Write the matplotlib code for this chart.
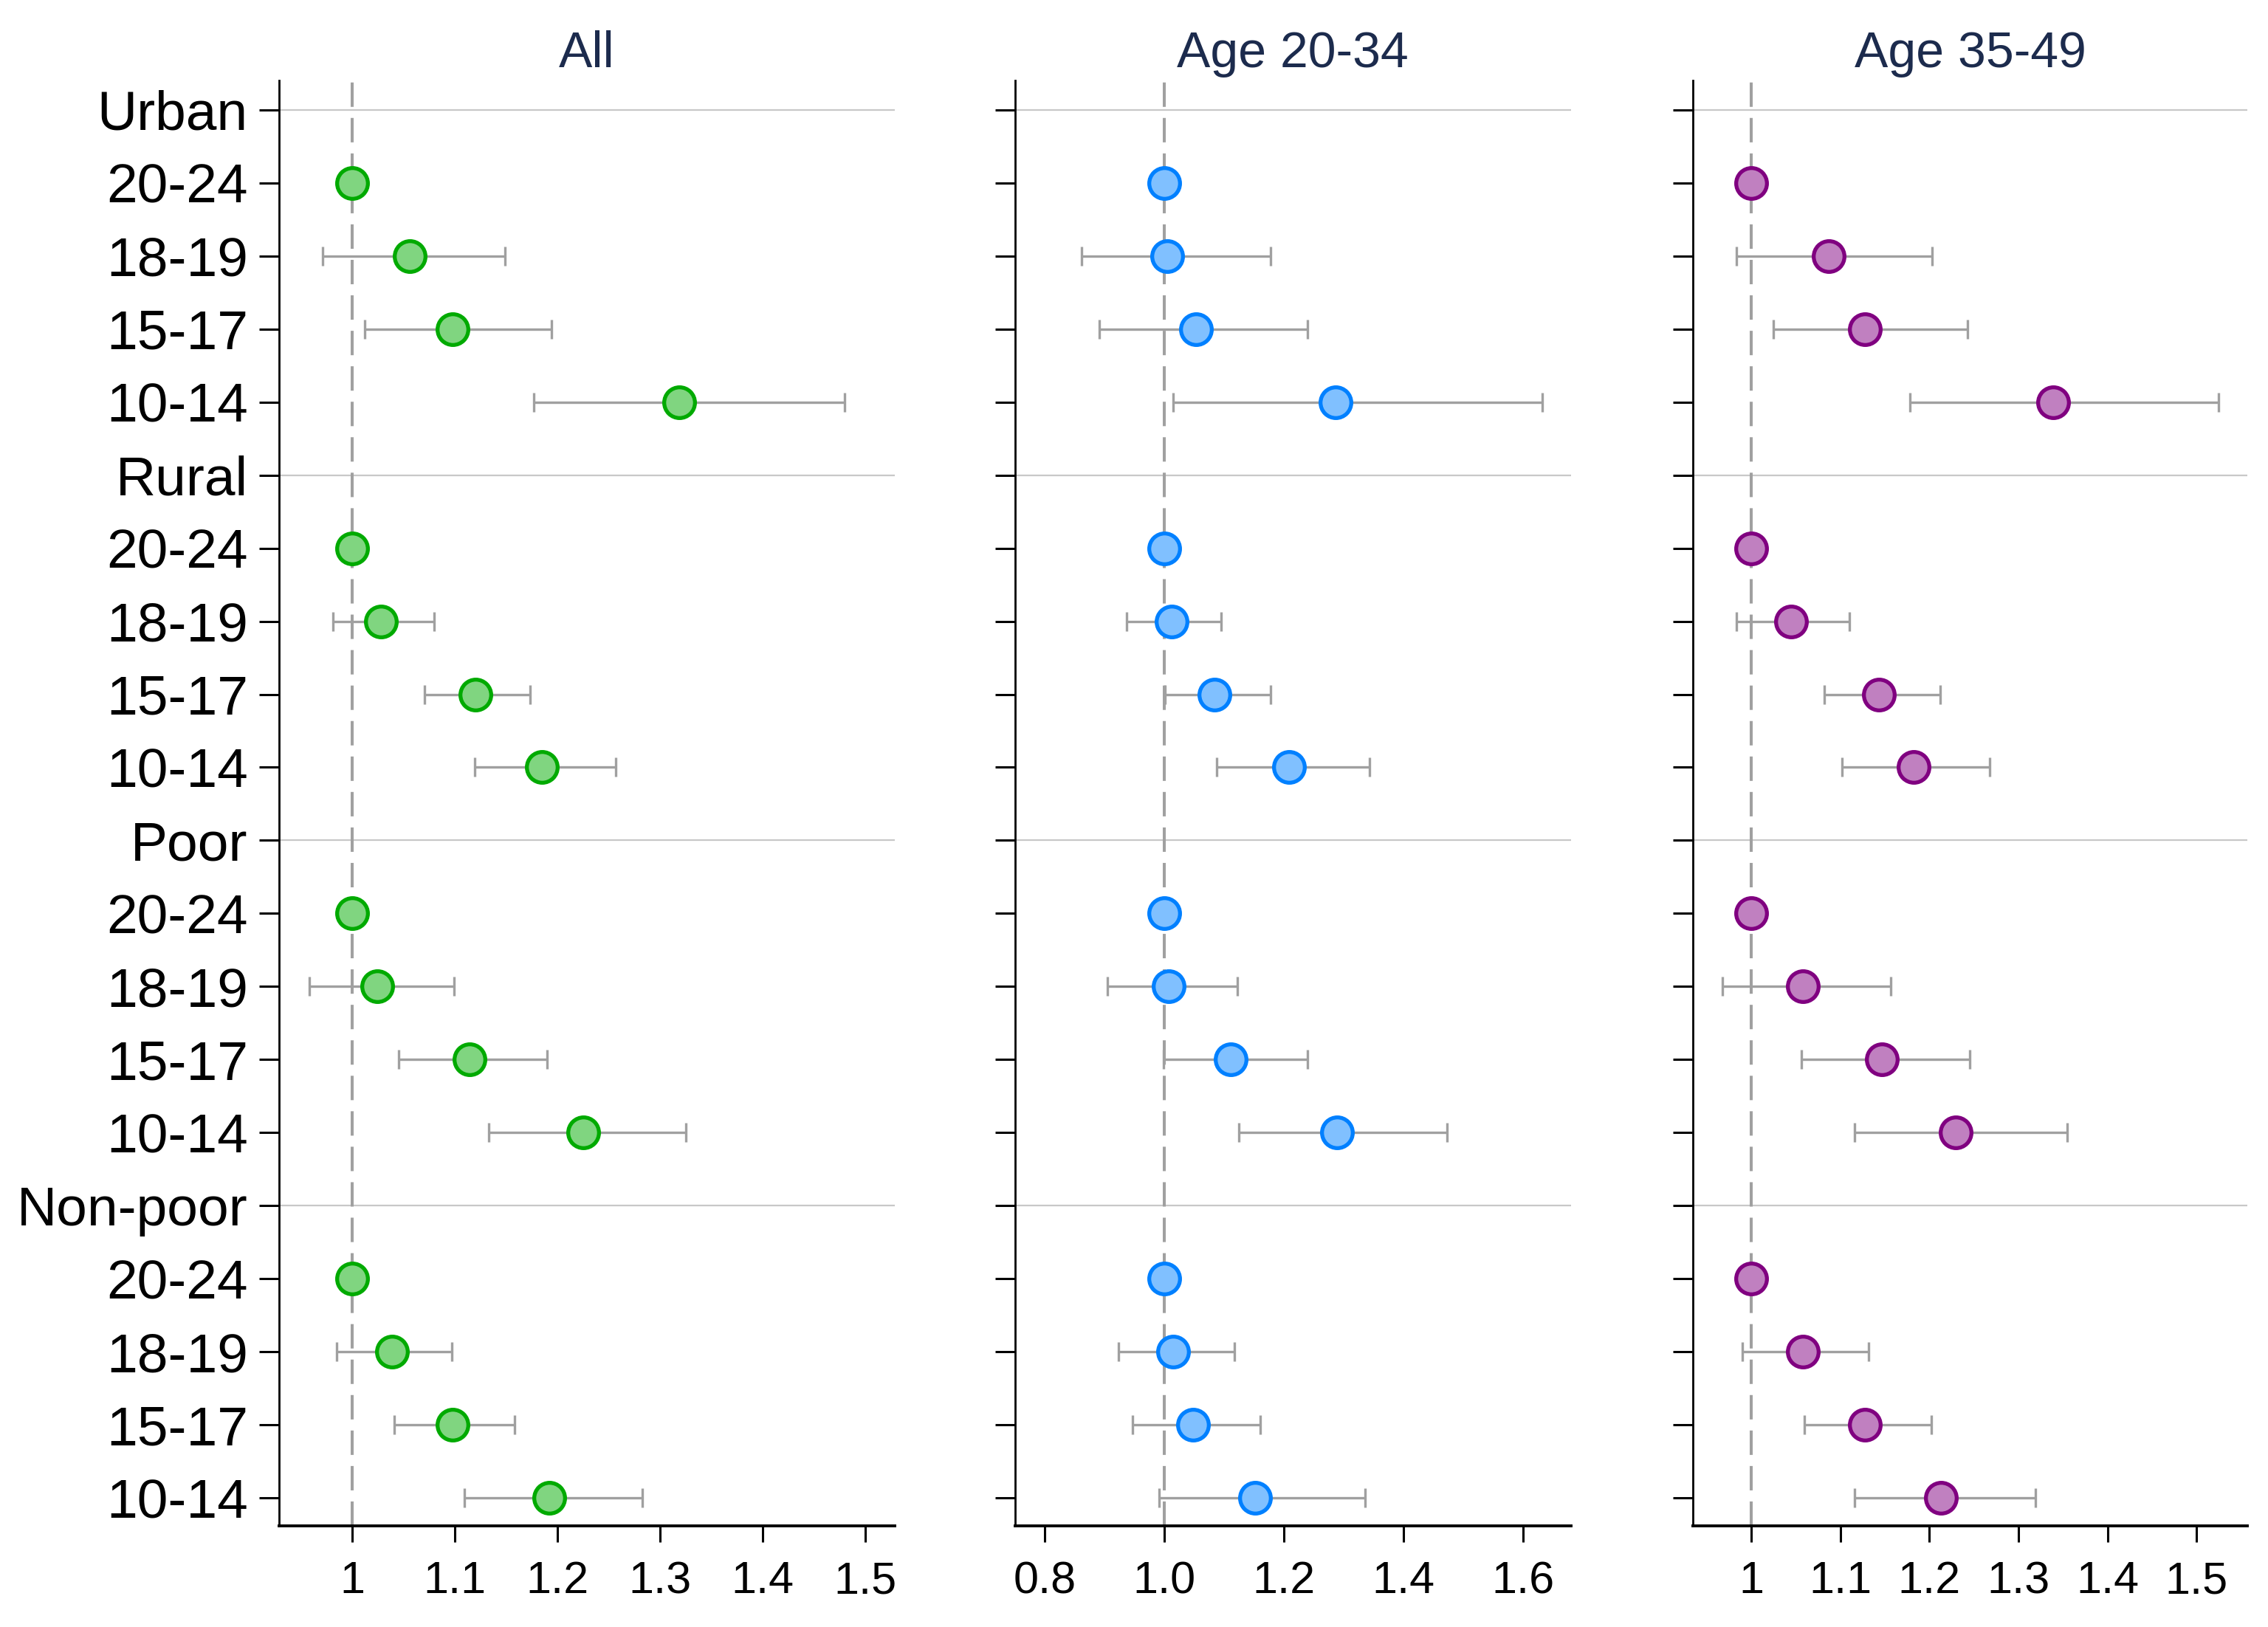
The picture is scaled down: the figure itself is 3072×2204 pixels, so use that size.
import numpy as np
import matplotlib
matplotlib.use("Agg")
import matplotlib.pyplot as plt

plt.rcParams['font.family'] = ['Liberation Sans', 'DejaVu Sans']
plt.rcParams['lines.scale_dashes'] = False

nan = np.nan
groups = ["Urban", "Rural", "Poor", "Non-poor"]
ages = ["20-24", "18-19", "15-17", "10-14"]
panel_titles = ["All", "Age 20-34", "Age 35-49"]

# All
est_all = [[1, 1.056, 1.098, 1.319], [1, 1.028, 1.120, 1.185],
           [1, 1.024, 1.114, 1.225], [1, 1.039, 1.098, 1.192]]
lo_all = [[nan, 0.971, 1.012, 1.177], [nan, 0.981, 1.070, 1.119],
          [nan, 0.958, 1.045, 1.133], [nan, 0.985, 1.041, 1.109]]
hi_all = [[nan, 1.149, 1.194, 1.480], [nan, 1.080, 1.173, 1.257],
          [nan, 1.099, 1.190, 1.325], [nan, 1.097, 1.158, 1.283]]

# Age 20-34
est_2034 = [[1, 1.004, 1.053, 1.286], [1, 1.012, 1.084, 1.208],
            [1, 1.007, 1.111, 1.289], [1, 1.014, 1.048, 1.152]]
lo_2034 = [[nan, 0.861, 0.891, 1.015], [nan, 0.936, 1.001, 1.088],
           [nan, 0.904, 0.998, 1.125], [nan, 0.923, 0.946, 0.991]]
hi_2034 = [[nan, 1.177, 1.239, 1.632], [nan, 1.095, 1.177, 1.343],
           [nan, 1.122, 1.239, 1.473], [nan, 1.117, 1.160, 1.336]]

# Age 35-49
est_3549 = [[1, 1.087, 1.128, 1.339], [1, 1.045, 1.143, 1.182],
            [1, 1.058, 1.147, 1.230], [1, 1.058, 1.128, 1.213]]
lo_3549 = [[nan, 0.983, 1.025, 1.178], [nan, 0.983, 1.082, 1.102],
           [nan, 0.968, 1.056, 1.116], [nan, 0.990, 1.060, 1.116]]
hi_3549 = [[nan, 1.203, 1.243, 1.525], [nan, 1.110, 1.212, 1.268],
           [nan, 1.157, 1.245, 1.355], [nan, 1.132, 1.202, 1.319]]

xticks_1 = [1, 1.1, 1.2, 1.3, 1.4, 1.5]
xticklabels_1 = ["1", "1.1", "1.2", "1.3", "1.4", "1.5"]
xticks_2 = [0.8, 1.0, 1.2, 1.4, 1.6]
xticklabels_2 = ["0.8", "1.0", "1.2", "1.4", "1.6"]

panels = [
    dict(est=est_all, lo=lo_all, hi=hi_all, edge="#00aa00", face="#80d580",
         xlim=(0.9285, 1.529), ticks=xticks_1, labels=xticklabels_1),
    dict(est=est_2034, lo=lo_2034, hi=hi_2034, edge="#0080ff", face="#80c0ff",
         xlim=(0.75, 1.68), ticks=xticks_2, labels=xticklabels_2),
    dict(est=est_3549, lo=lo_3549, hi=hi_3549, edge="#800080", face="#c080c0",
         xlim=(0.9345, 1.557), ticks=xticks_1, labels=xticklabels_1),
]

# row labels
row_labels = []
for g in groups:
    row_labels.append(g)
    row_labels.extend(ages)
n_rows = len(row_labels)

W, H = 3072, 2204
fig = plt.figure(figsize=(W / 200, H / 200), dpi=200)
lefts = [378, 1375, 2293]
rights = [1212, 2127.5, 3044]
top_px, bot_px = 109, 2067

gray = "#a0a0a0"
for k, p in enumerate(panels):
    ax = fig.add_axes([lefts[k] / W, 1 - bot_px / H,
                       (rights[k] - lefts[k]) / W, (bot_px - top_px) / H])
    ys, xs, los, his = [], [], [], []
    for gi, g in enumerate(groups):
        for ai in range(len(ages)):
            y = gi * 5 + 1 + ai
            ys.append(y)
            xs.append(p["est"][gi][ai])
            los.append(p["lo"][gi][ai])
            his.append(p["hi"][gi][ai])
    ys = np.array(ys); xs = np.array(xs); los = np.array(los); his = np.array(his)
    # header separator lines
    for gi in range(len(groups)):
        ax.axhline(gi * 5, color="#c8c8c8", lw=0.8, zorder=1)
    # reference line
    ax.axvline(1, color=gray, lw=1.45, dashes=(11.9, 5.4), zorder=2)
    # error bars
    m = ~np.isnan(los)
    ax.errorbar(xs[m], ys[m], xerr=[xs[m] - los[m], his[m] - xs[m]], fmt="none",
                ecolor=gray, elinewidth=1.2, capsize=4.7, capthick=1.2, zorder=3)
    ax.plot(xs, ys, "o", ms=15, mfc=p["face"], mec=p["edge"], mew=1.9,
            ls="none", zorder=4)
    ax.set_ylim(n_rows - 1 + 0.38, -0.4)
    ax.set_xlim(*p["xlim"])
    ax.set_yticks(range(n_rows))
    if k == 0:
        ax.set_yticklabels(row_labels, fontsize=27)
    else:
        ax.set_yticklabels([])
    ax.set_xticks(p["ticks"])
    ax.set_xticklabels(p["labels"], fontsize=22)
    ax.tick_params(axis="y", length=9.7, width=1.1, pad=5.5)
    ax.tick_params(axis="x", length=8, width=1.1, pad=9)
    for s in ["top", "right"]:
        ax.spines[s].set_visible(False)
    ax.spines["left"].set_linewidth(1.0)
    ax.spines["bottom"].set_linewidth(1.4)
    ax.set_title(panel_titles[k], fontsize=24.5, color="#1c2b4d", pad=6.5)

fig.savefig("out.png", dpi=200, facecolor="white")
